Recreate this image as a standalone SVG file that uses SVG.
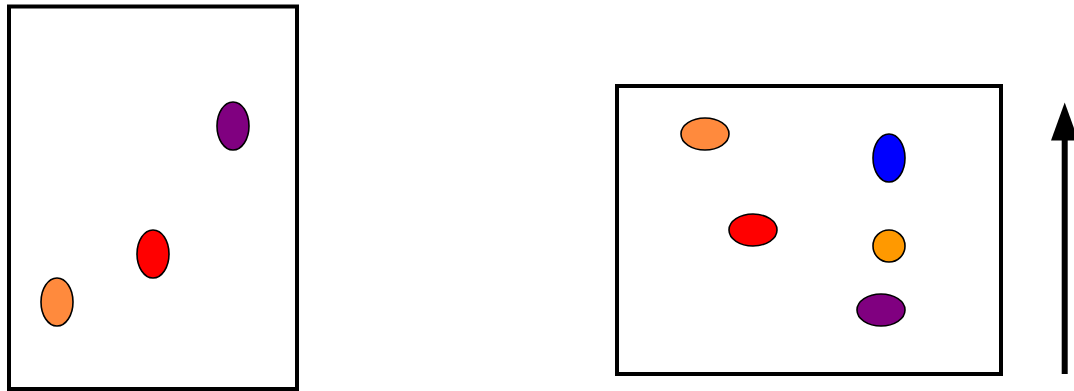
<svg xmlns="http://www.w3.org/2000/svg" width="1074" height="391" viewBox="0 0 1074 391">
<style>
.frame{fill:#fff;stroke:#000;stroke-width:4}
.dot{stroke:#000;stroke-width:1.6}
</style>
<rect width="1074" height="391" fill="#fff"/>
<g id="left-box"><rect class="frame" x="9" y="6.5" width="288" height="382.5"/></g>
<g id="left-purple"><ellipse class="dot" cx="233" cy="126" rx="16" ry="24" fill="#800080"/></g>
<g id="left-red"><ellipse class="dot" cx="153" cy="254" rx="16" ry="24" fill="#FF0000"/></g>
<g id="left-orange"><ellipse class="dot" cx="57" cy="302" rx="16" ry="24" fill="#FF8A3D"/></g>
<g id="right-box"><rect class="frame" x="617" y="86" width="384" height="288"/></g>
<g id="right-orange"><ellipse class="dot" cx="705" cy="134" rx="24" ry="16" fill="#FF8A3D"/></g>
<g id="right-blue"><ellipse class="dot" cx="889" cy="158" rx="16" ry="24" fill="#0000FF"/></g>
<g id="right-red"><ellipse class="dot" cx="753" cy="230" rx="24" ry="16" fill="#FF0000"/></g>
<g id="right-gold"><ellipse class="dot" cx="889" cy="246" rx="16" ry="16" fill="#FF9900"/></g>
<g id="right-purple"><ellipse class="dot" cx="881" cy="310" rx="24" ry="16" fill="#800080"/></g>
<g id="connectors">
<line x1="1064.7" y1="374" x2="1064.7" y2="138" stroke="#000" stroke-width="6"/>
<polygon points="1064.7,102.5 1078.4,140.5 1051,140.5" fill="#000"/>
</g>
</svg>
